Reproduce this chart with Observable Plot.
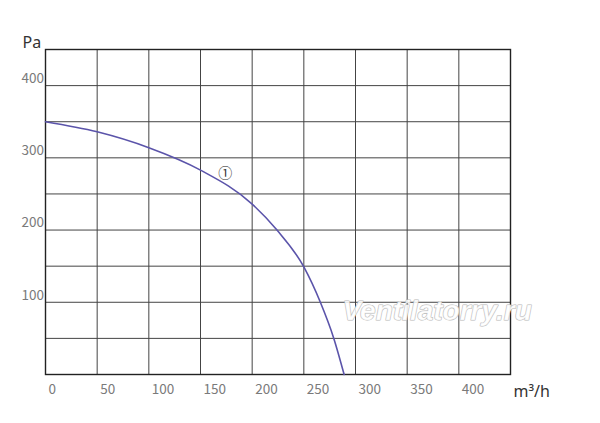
<!DOCTYPE html>
<html>
<head>
<meta charset="utf-8">
<script src="https://cdn.jsdelivr.net/npm/d3@7"></script>
<script src="https://cdn.jsdelivr.net/npm/@observablehq/plot@0.6"></script>
<style>
  body { margin: 0; background: white; }
  #chart svg { display: block; }
</style>
</head>
<body>
<div id="chart"></div>
<script>
// fan curve: airflow (m³/h) vs static pressure (Pa)
const flow     = [0,   50,  100, 150, 200, 224, 250, 266, 279, 289];
const pressure = [350, 336, 314, 283, 236, 200, 149, 100, 50,  0];

// axes
const xTicks = [0, 50, 100, 150, 200, 250, 300, 350, 400];
const yTicks = [100, 200, 300, 400];
const gridSteps = [0, 50, 100, 150, 200, 250, 300, 350, 400, 450];

// curve number label
const curveLabel = [{x: 174, y: 278, text: "①"}];

const data = flow.map((f, i) => ({flow: f, pressure: pressure[i]}));

const chart = Plot.plot({
  width: 600,
  height: 423,
  marginLeft: 45,
  marginRight: 90,
  marginTop: 49,
  marginBottom: 49,
  x: {domain: [0, 450]},
  y: {domain: [0, 450]},
  style: {
    fontFamily: "'Noto Sans CJK SC', 'Noto Sans', sans-serif",
    fontSize: "13.5px",
    background: "white"
  },
  marks: [
    Plot.gridX(gridSteps, {stroke: "#444", strokeOpacity: 1, strokeWidth: 1}),
    Plot.gridY(gridSteps, {stroke: "#444", strokeOpacity: 1, strokeWidth: 1}),
    Plot.frame({stroke: "#222", strokeWidth: 1.4}),
    Plot.axisX(xTicks, {
      tickSize: 0, tickPadding: 10, textAnchor: "start", dx: 3,
      fill: "#7a7a7a", label: null
    }),
    Plot.axisY(yTicks, {
      tickSize: 0, tickPadding: 1.5, textAnchor: "end", dy: -7,
      fill: "#7a7a7a", label: null
    }),
    // watermark
    Plot.text(["Ventilatorry.ru"], {
      x: 379, y: 88, fontSize: 28, fontStyle: "italic", fontWeight: "bold",
      fontFamily: "'Liberation Sans', Arial, sans-serif",
      fill: "white", fillOpacity: 0.85, stroke: "#b8b8b8", strokeWidth: 1.1
    }),
    Plot.line(data, {
      x: "flow", y: "pressure", curve: "monotone-x",
      stroke: "#5b54aa", strokeWidth: 1.6
    }),
    Plot.text(curveLabel, {
      x: "x", y: "y", text: "text", fontSize: 14, fill: "#333"
    }),
    // unit labels
    Plot.text(["Pa"], {
      frameAnchor: "top-left", textAnchor: "start", lineAnchor: "bottom",
      dx: -23, dy: -2, fontSize: 16, fill: "#333",
      fontFamily: "'Noto Sans', sans-serif"
    }),
    Plot.text(["m³/h"], {
      frameAnchor: "bottom-right", textAnchor: "start", lineAnchor: "middle",
      dx: 3, dy: 17, fontSize: 16, fill: "#333",
      fontFamily: "'Noto Sans', sans-serif"
    })
  ]
});

d3.select("#chart").append(() => chart);
</script>
</body>
</html>
